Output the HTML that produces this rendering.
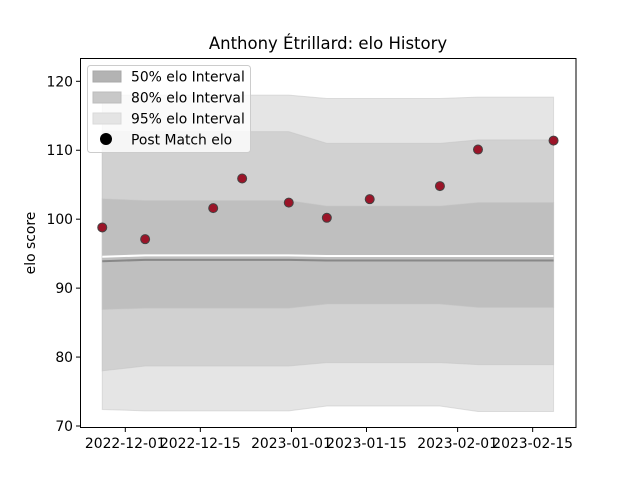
<!DOCTYPE html>
<html><head><meta charset="utf-8"><style>
body{margin:0;background:#fff;}
svg text{font-family:"DejaVu Sans","Liberation Sans",sans-serif;fill:#000;}
</style></head><body>
<svg id="chart" width="640" height="480" xmlns="http://www.w3.org/2000/svg">
<rect width="640" height="480" fill="#fff"/>
<text x="328" y="49" font-size="16.5" text-anchor="middle">Anthony Étrillard: elo History</text>
<g id="bands"></g>
<g id="points"></g>
<rect x="80.5" y="58.5" width="495.5" height="369" fill="none" stroke="#000" stroke-width="1"/>
<g id="yaxis"></g>
<g id="xaxis"></g>
<text transform="translate(35,243) rotate(-90)" font-size="13.9" text-anchor="middle">elo score</text>
<g>
<rect x="87.5" y="65.5" width="163" height="87" rx="3" fill="#fff" fill-opacity="0.8" stroke="#ccc"/>
<rect x="93" y="71" width="28" height="11" fill="#b3b3b3" stroke="#a8a8a8"/>
<text x="131" y="81.5" font-size="13.9">50% elo Interval</text>
<rect x="93" y="92" width="28" height="11" fill="#c8c8c8" stroke="#bdbdbd"/>
<text x="131" y="102.5" font-size="13.9">80% elo Interval</text>
<rect x="93" y="113" width="28" height="11" fill="#e4e4e4" stroke="#dadada"/>
<text x="131" y="123.5" font-size="13.9">95% elo Interval</text>
<circle cx="106" cy="139" r="6" fill="#000"/>
<text x="131" y="144.5" font-size="13.9">Post Match elo</text>
</g>
</svg>
<script>
// days since 2022-12-01
const matchDays = [-4.3, 3.7, 16.4, 21.8, 30.5, 37.6, 45.6, 58.7, 65.8, 79.9];
const postElo = [98.8, 97.1, 101.6, 105.9, 102.4, 100.2, 102.9, 104.8, 110.1, 111.4];
const upper95 = [118.0, 118.0, 118.0, 118.0, 118.0, 117.5, 117.5, 117.5, 117.7, 117.7];
const lower95 = [72.4, 72.2, 72.2, 72.2, 72.2, 72.9, 72.9, 72.9, 72.1, 72.1];
const upper80 = [112.7, 112.7, 112.7, 112.7, 112.7, 111.0, 111.0, 111.0, 111.5, 111.5];
const lower80 = [78.0, 78.7, 78.7, 78.7, 78.7, 79.2, 79.2, 79.2, 78.9, 78.9];
const upper50 = [102.95, 102.7, 102.7, 102.7, 102.7, 101.9, 101.9, 101.9, 102.4, 102.4];
const lower50 = [86.9, 87.1, 87.1, 87.1, 87.1, 87.7, 87.7, 87.7, 87.2, 87.2];
const meanElo = [93.9, 94.1, 94.1, 94.1, 94.1, 94.0, 94.0, 94.0, 94.0, 94.0];
const yTicks = [70, 80, 90, 100, 110, 120];
const xTickDays = [0, 14, 31, 45, 62, 76];
const xTickLabels = ["2022-12-01","2022-12-15","2023-01-01","2023-01-15","2023-02-01","2023-02-15"];

const NS="http://www.w3.org/2000/svg";
const X = d => 125.3 + d*5.36;
const Y = v => 81.3 + (120 - v)*6.894;
function mk(tag, attrs, parent){const e=document.createElementNS(NS,tag);for(const k in attrs)e.setAttribute(k,attrs[k]);parent.appendChild(e);return e;}
function band(up, lo, fill, name){
  let d="M"+matchDays.map((m,i)=>X(m)+","+Y(up[i])).join(" L");
  for(let i=matchDays.length-1;i>=0;i--) d+=" L"+X(matchDays[i])+","+Y(lo[i]);
  const p=mk("path",{d:d+"Z",fill:fill,stroke:"#c4c4c4","stroke-opacity":"0.5"},document.getElementById("bands"));
  
  
}
band(upper95, lower95, "#e5e5e5", "band-95");
band(upper80, lower80, "#d1d1d1", "band-80");
band(upper50, lower50, "#bfbfbf", "band-50");
const bg=document.getElementById("bands");
const wl=mk("polyline",{points:matchDays.map((m,i)=>X(m)+","+(Y(meanElo[i])-4.5)).join(" "),fill:"none",stroke:"#fff","stroke-width":"2"},bg);


const ml=mk("polyline",{points:matchDays.map((m,i)=>X(m)+","+Y(meanElo[i])).join(" "),fill:"none",stroke:"#888","stroke-width":"2"},bg);


const pg=document.getElementById("points");
matchDays.forEach((m,i)=>{
  const c=mk("circle",{cx:X(m),cy:Y(postElo[i]),r:4.5,fill:"#9b1428",stroke:"#444","stroke-width":"1"},pg);
  
  
});
const ya=document.getElementById("yaxis");
yTicks.forEach(v=>{
  const l=mk("line",{x1:76,x2:80.5,y1:Y(v),y2:Y(v),stroke:"#000"},ya);
  
  
  const t=mk("text",{x:73,y:Y(v)+5,"font-size":"13.9","text-anchor":"end"},ya);
  t.textContent=v;
  
  
});
const xa=document.getElementById("xaxis");
xTickDays.forEach((d,i)=>{
  const l=mk("line",{x1:X(d),x2:X(d),y1:427.5,y2:432,stroke:"#000"},xa);
  
  
  const t=mk("text",{x:X(d),y:448,"font-size":"13.9","text-anchor":"middle"},xa);
  t.textContent=xTickLabels[i];
  
  
});
</script>
</body></html>
